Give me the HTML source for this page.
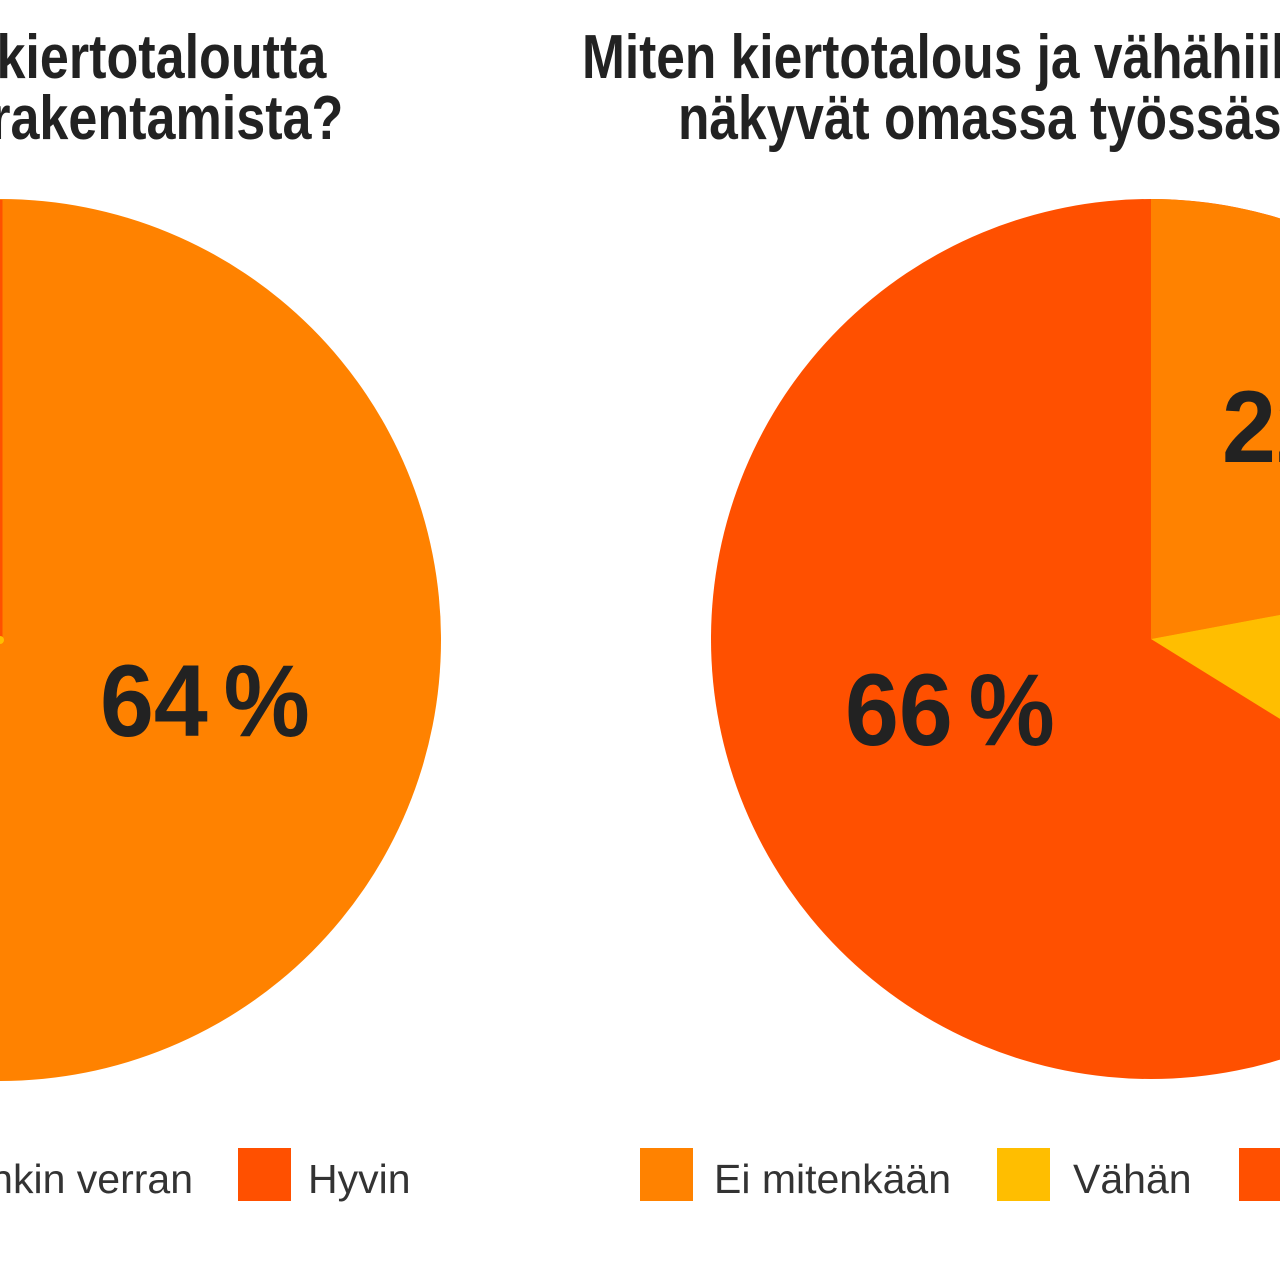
<!DOCTYPE html>
<html><head><meta charset="utf-8"><style>
html,body{margin:0;padding:0;width:1280px;height:1280px;overflow:hidden;background:#fff;}
#w{position:absolute;left:0;top:0;width:1280px;height:1280px;overflow:hidden;font-family:"Liberation Sans",sans-serif;}
.t{position:absolute;font-weight:bold;font-size:62px;color:#222;white-space:nowrap;line-height:1;}
.p{position:absolute;font-weight:bold;font-size:102px;color:#222;white-space:nowrap;line-height:1;transform:scaleX(0.95);transform-origin:left top;}
.l{position:absolute;font-size:41px;color:#333;white-space:nowrap;line-height:1;top:1159px;}
.sq{position:absolute;width:53px;height:53px;top:1148px;}
</style></head><body><div id="w">
<svg width="1280" height="1280" style="position:absolute;left:0;top:0">
<circle cx="0" cy="640" r="441" fill="#FF8200"/>
<rect x="0" y="200" width="2.5" height="440" fill="#FF5000"/>
<circle cx="0" cy="640" r="4" fill="#FFBE00"/>
<circle cx="1151" cy="639" r="440" fill="#FF5000"/>
<path d="M1151,639 L1151,199 A440,440 0 0 1 1583,558 Z" fill="#FF8200"/>
<path d="M1151,639 L1583,558 A440,440 0 0 1 1524,870 Z" fill="#FFBE00"/>
</svg>
<div class="t" style="right:954px;top:27px;transform:scaleX(0.84);transform-origin:right top;text-align:right">tunnet kiertotaloutta</div>
<div class="t" style="right:937px;top:88px;transform:scaleX(0.84);transform-origin:right top;text-align:right">vähähiilistä rakentamista?</div>
<div class="t" style="left:582px;top:27px;transform:scaleX(0.83);transform-origin:left top">Miten kiertotalous ja vähähiilisyys</div>
<div class="t" style="left:678px;top:88px;transform:scaleX(0.83);transform-origin:left top">näkyvät omassa työssäsi/</div>
<div class="p" style="left:100px;top:650px">64<span style="font-size:60px"> </span>%</div>
<div class="p" style="left:845px;top:659px">66<span style="font-size:60px"> </span>%</div>
<div class="p" style="left:1222px;top:376px">22<span style="font-size:60px"> </span>%</div>
<div class="l" style="right:1087px">Jonkin verran</div>
<div class="sq" style="left:238px;background:#FF5000"></div>
<div class="l" style="left:308px">Hyvin</div>
<div class="sq" style="left:640px;background:#FF8200"></div>
<div class="l" style="left:714px">Ei mitenkään</div>
<div class="sq" style="left:997px;background:#FFBE00"></div>
<div class="l" style="left:1073px">Vähän</div>
<div class="sq" style="left:1239px;background:#FF5000"></div>
</div></body></html>
